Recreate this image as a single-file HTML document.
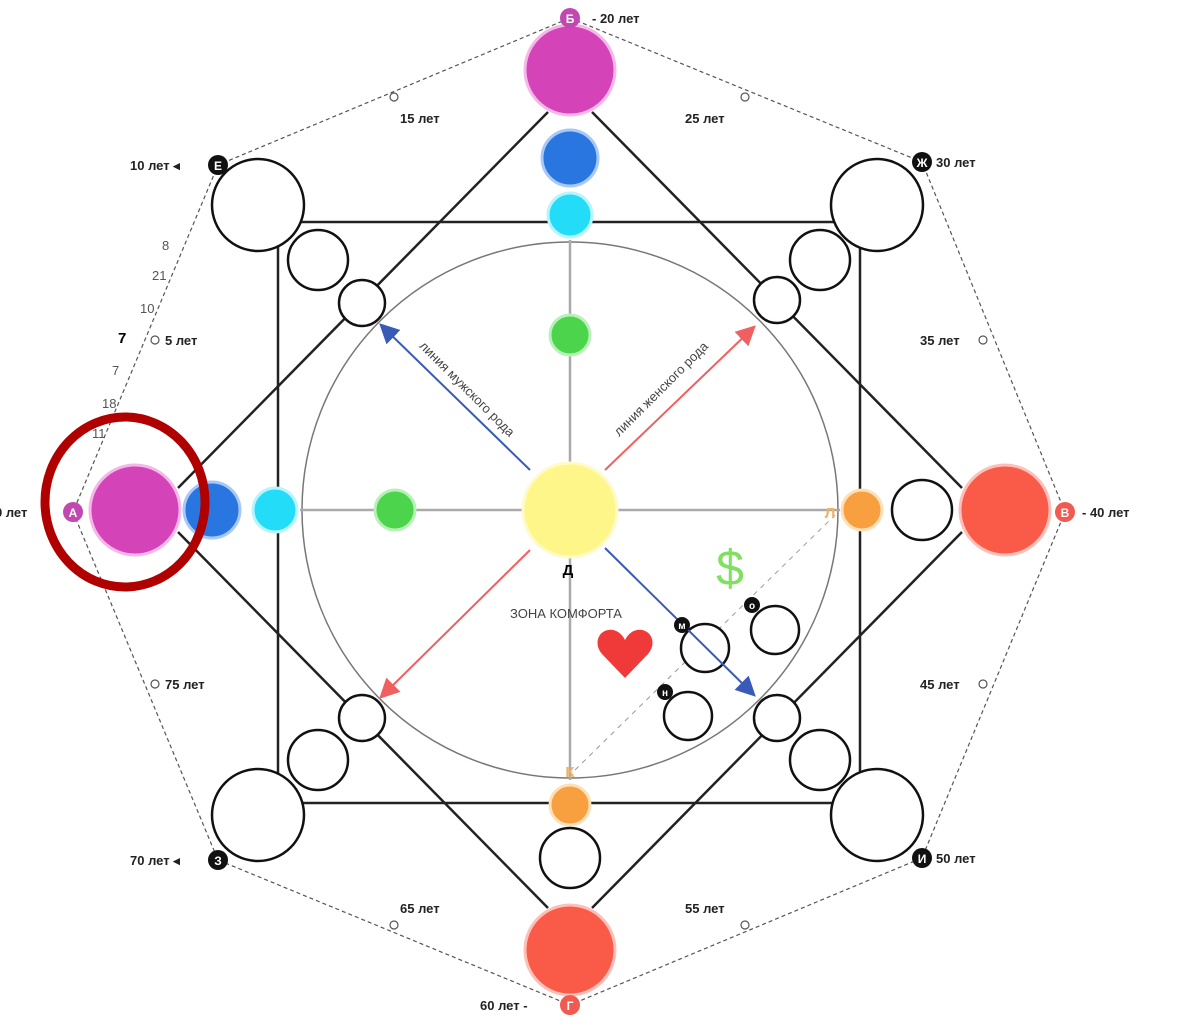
<!DOCTYPE html>
<html><head><meta charset="utf-8"><style>
html,body{margin:0;padding:0;background:#fff;}
svg{display:block;font-family:"Liberation Sans",sans-serif;}
</style></head><body>
<svg width="1200" height="1036" viewBox="0 0 1200 1036" xmlns="http://www.w3.org/2000/svg">
<polygon points="570,18 922,162 1065,512 922,858 570,1005 218,860 73,512 218,165" fill="none" stroke="#555" stroke-width="1.2" stroke-dasharray="4,3"/>
<circle cx="570" cy="510" r="268" fill="none" stroke="#777" stroke-width="1.5"/>
<line x1="570" y1="240" x2="570" y2="780" stroke="#aaa" stroke-width="2.5"/>
<line x1="300" y1="510" x2="840" y2="510" stroke="#aaa" stroke-width="2.5"/>
<rect x="278" y="222" width="582" height="581" fill="none" stroke="#222" stroke-width="2.5"/>
<g stroke="#222" stroke-width="2.5">
<line x1="548" y1="112" x2="178" y2="488"/>
<line x1="592" y1="112" x2="962" y2="488"/>
<line x1="178" y1="532" x2="548" y2="908"/>
<line x1="962" y1="532" x2="592" y2="908"/>
</g>
<line x1="575" y1="770" x2="835" y2="515" stroke="#999" stroke-width="1" stroke-dasharray="5,5"/>
<g fill="#fff" stroke="#111" stroke-width="2.5">
<circle cx="258" cy="205" r="46"/><circle cx="318" cy="260" r="30"/><circle cx="362" cy="303" r="23"/>
<circle cx="877" cy="205" r="46"/><circle cx="820" cy="260" r="30"/><circle cx="777" cy="300" r="23"/>
<circle cx="258" cy="815" r="46"/><circle cx="318" cy="760" r="30"/><circle cx="362" cy="718" r="23"/>
<circle cx="877" cy="815" r="46"/><circle cx="820" cy="760" r="30"/><circle cx="777" cy="718" r="23"/>
<circle cx="570" cy="858" r="30"/><circle cx="922" cy="510" r="30"/>
<circle cx="705" cy="648" r="24"/><circle cx="775" cy="630" r="24"/><circle cx="688" cy="716" r="24"/>
</g>
<g stroke-width="3">
<circle cx="570" cy="70" r="45" fill="#d444b8" stroke="#f4b8e8"/>
<circle cx="570" cy="158" r="28" fill="#2a76e0" stroke="#a8c8f8"/>
<circle cx="570" cy="215" r="22" fill="#22dcf8" stroke="#b8f4fc"/>
<circle cx="570" cy="335" r="20" fill="#4cd44c" stroke="#b8f0b8"/>
<circle cx="135" cy="510" r="45" fill="#d444b8" stroke="#f4b8e8"/>
<circle cx="212" cy="510" r="28" fill="#2a76e0" stroke="#a8c8f8"/>
<circle cx="275" cy="510" r="22" fill="#22dcf8" stroke="#b8f4fc"/>
<circle cx="395" cy="510" r="20" fill="#4cd44c" stroke="#b8f0b8"/>
<circle cx="570" cy="510" r="47" fill="#fff68a" stroke="#fffac8"/>
<circle cx="862" cy="510" r="20" fill="#f8a040" stroke="#fde0b8"/>
<circle cx="570" cy="805" r="20" fill="#f8a040" stroke="#fde0b8"/>
<circle cx="1005" cy="510" r="45" fill="#fa5a48" stroke="#fdc0b8"/>
<circle cx="570" cy="950" r="45" fill="#fa5a48" stroke="#fdc0b8"/>
</g>
<ellipse cx="125" cy="502" rx="80" ry="85" fill="none" stroke="#b00000" stroke-width="9"/>
<defs>
<marker id="ab" markerWidth="10" markerHeight="10" refX="8" refY="5" orient="auto"><path d="M0,0 L10,5 L0,10 z" fill="#3a5ab8"/></marker>
<marker id="ar" markerWidth="10" markerHeight="10" refX="8" refY="5" orient="auto"><path d="M0,0 L10,5 L0,10 z" fill="#f06060"/></marker>
</defs>
<line x1="530" y1="470" x2="382" y2="326" stroke="#3a5ab8" stroke-width="2" marker-end="url(#ab)"/>
<line x1="605" y1="470" x2="753" y2="328" stroke="#f06060" stroke-width="2" marker-end="url(#ar)"/>
<line x1="530" y1="550" x2="382" y2="696" stroke="#f06060" stroke-width="2" marker-end="url(#ar)"/>
<line x1="605" y1="548" x2="753" y2="694" stroke="#3a5ab8" stroke-width="2" marker-end="url(#ab)"/>
<text x="0" y="0" font-size="13" fill="#444" transform="translate(464,392) rotate(45)" text-anchor="middle">линия мужского рода</text>
<text x="0" y="0" font-size="13" fill="#444" transform="translate(664,392) rotate(-45)" text-anchor="middle">линия женского рода</text>
<text x="568" y="575" font-size="15" font-weight="bold" text-anchor="middle">Д</text>
<text x="566" y="618" font-size="13" fill="#444" text-anchor="middle">ЗОНА КОМФОРТА</text>
<path d="M625,678 L602,654 C592,642 600,628 613,630 C619,631 623,636 625,640 C627,636 631,631 637,630 C650,628 658,642 648,654 Z" fill="#f03a3a"/>
<text x="730" y="585" font-size="50" fill="#80e060" text-anchor="middle">$</text>
<g font-size="10" font-weight="bold" text-anchor="middle">
<circle cx="682" cy="625" r="8" fill="#111"/><text x="682" y="629" fill="#fff">м</text>
<circle cx="752" cy="605" r="8" fill="#111"/><text x="752" y="609" fill="#fff">о</text>
<circle cx="665" cy="692" r="8" fill="#111"/><text x="665" y="696" fill="#fff">н</text>
</g>
<text x="830" y="518" font-size="15" font-weight="bold" fill="#f8b060" text-anchor="middle">Л</text>
<text x="570" y="777" font-size="15" font-weight="bold" fill="#f8b060" text-anchor="middle">К</text>
<g font-size="12" font-weight="bold" text-anchor="middle">
<circle cx="570" cy="18" r="10" fill="#c048b0"/><text x="570" y="23" fill="#fff">Б</text>
<circle cx="73" cy="512" r="10" fill="#c048b0"/><text x="73" y="517" fill="#fff">А</text>
<circle cx="1065" cy="512" r="10" fill="#f05a50"/><text x="1065" y="517" fill="#fff">В</text>
<circle cx="570" cy="1005" r="10" fill="#f05a50"/><text x="570" y="1010" fill="#fff">Г</text>
<circle cx="218" cy="165" r="10" fill="#111"/><text x="218" y="170" fill="#fff">Е</text>
<circle cx="922" cy="162" r="10" fill="#111"/><text x="922" y="167" fill="#fff">Ж</text>
<circle cx="218" cy="860" r="10" fill="#111"/><text x="218" y="865" fill="#fff">З</text>
<circle cx="922" cy="858" r="10" fill="#111"/><text x="922" y="863" fill="#fff">И</text>
</g>
<g font-size="13" fill="#222" font-weight="bold">
<text x="592" y="23">-  20 лет</text>
<text x="130" y="170">10 лет ◂</text>
<text x="936" y="167">30 лет</text>
<text x="-5" y="517">0 лет</text>
<text x="1082" y="517">-  40 лет</text>
<text x="936" y="863">50 лет</text>
<text x="480" y="1010">60 лет  -</text>
<text x="130" y="865">70 лет ◂</text>
<text x="400" y="123">15 лет</text>
<text x="685" y="123">25 лет</text>
<text x="920" y="345">35 лет</text>
<text x="920" y="689">45 лет</text>
<text x="685" y="913">55 лет</text>
<text x="400" y="913">65 лет</text>
<text x="165" y="689">75 лет</text>
<text x="165" y="345">5 лет</text>
</g>
<g font-size="13" fill="#555">
<text x="162" y="250">8</text><text x="152" y="280">21</text><text x="140" y="313">10</text>
<text x="112" y="375">7</text><text x="102" y="408">18</text><text x="92" y="438">11</text>
</g>
<text x="118" y="343" font-size="15" font-weight="bold">7</text>
<g fill="none" stroke="#555" stroke-width="1.2">
<circle cx="155" cy="340" r="4"/><circle cx="394" cy="97" r="4"/><circle cx="745" cy="97" r="4"/>
<circle cx="983" cy="340" r="4"/><circle cx="983" cy="684" r="4"/><circle cx="745" cy="925" r="4"/>
<circle cx="394" cy="925" r="4"/><circle cx="155" cy="684" r="4"/>
</g>
</svg>
</body></html>
